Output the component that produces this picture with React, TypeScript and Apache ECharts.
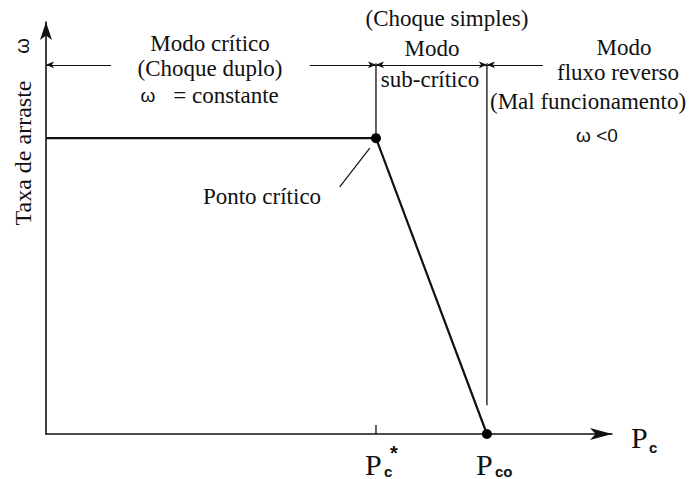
import React, { useEffect, useRef } from "react";
import * as echarts from "echarts";

// Schematic values (abstract units on a 0..100 scale)
const criticalP = 58.3; // P_c*
const zeroFlowP = 77.9; // P_co
const omegaConst = 71.8; // constant drag rate
const curveX = [0, criticalP, zeroFlowP];
const curveY = [omegaConst, omegaConst, 0];
const keyPointsX = [criticalP, zeroFlowP];
const keyPointsY = [omegaConst, 0];
const modeArrowY = 89.6;
const boundaryTop = 90;
const reverseBoundaryBottom = 7;
const tickTop = 2.2;
// mode arrows: [from, to, symbolAtFrom, symbolAtTo]
const arrowFrom = [0, 46.6, criticalP, zeroFlowP];
const arrowTo = [11.5, criticalP, zeroFlowP, 87.8];
const arrowStartSym = ["arrow", "none", "arrow", "arrow"];
const arrowEndSym = ["none", "arrow", "arrow", "none"];
const leaderX = [57.2, 51.9];
const leaderY = [69.4, 60.0];

const SERIF = "'Liberation Serif', 'Times New Roman', serif";
const SANS = "'Liberation Sans', Arial, sans-serif";
const INK = "#111";

function txt(text: string, x: number, y: number, size = 23, family = SERIF, extra: any = {}) {
  return {
    type: "text",
    x,
    y,
    rotation: extra.rotation || 0,
    silent: true,
    style: {
      text,
      x: 0,
      y: 0,
      font: `${extra.weight || "normal"} ${size}px ${family}`,
      fill: INK,
      textAlign: extra.align || "center",
      textVerticalAlign: "middle",
      align: extra.align || "center",
      verticalAlign: "middle",
    },
  };
}

export default function App() {
  const ref = useRef<HTMLDivElement>(null);
  useEffect(() => {
    document.body.style.margin = "0";
    const chart = echarts.init(ref.current!, null, { renderer: "svg" });
    const thin = { color: INK, width: 1.3 };
    const option: any = {
      animation: false,
      backgroundColor: "#fff",
      grid: { left: 46, right: 83, top: 22, bottom: 45, containLabel: false },
      xAxis: {
        type: "value",
        min: 0,
        max: 100,
        axisLine: { show: true, symbol: ["none", "arrow"], symbolSize: [9, 22], lineStyle: { color: INK, width: 1.6 } },
        axisTick: { show: false },
        axisLabel: { show: false },
        splitLine: { show: false },
      },
      yAxis: {
        type: "value",
        min: 0,
        max: 100,
        axisLine: { show: true, symbol: ["none", "arrow"], symbolSize: [9, 18], lineStyle: { color: INK, width: 1.6 } },
        axisTick: { show: false },
        axisLabel: { show: false },
        splitLine: { show: false },
      },
      series: [
        {
          type: "line",
          data: curveX.map((x, i) => [x, curveY[i]]),
          symbol: "none",
          lineStyle: { color: INK, width: 2.2 },
          silent: true,
        },
        {
          type: "scatter",
          data: keyPointsX.map((x, i) => [x, keyPointsY[i]]),
          symbolSize: 10,
          itemStyle: { color: "#000", opacity: 1 },
          silent: true,
          z: 5,
        },
        {
          type: "line",
          data: [[criticalP, omegaConst], [criticalP, boundaryTop]],
          symbol: "none",
          lineStyle: thin,
          silent: true,
          markLine: {
            silent: true,
            label: { show: false },
            lineStyle: { color: INK, width: 1, type: "solid" },
            symbolSize: [5, 8],
            data: arrowFrom.map((x, i) => [
              { coord: [x, modeArrowY], symbol: arrowStartSym[i], symbolSize: [5, 8] },
              { coord: [arrowTo[i], modeArrowY], symbol: arrowEndSym[i], symbolSize: [5, 8] },
            ]),
          },
        },
        {
          type: "line",
          data: [[zeroFlowP, reverseBoundaryBottom], [zeroFlowP, boundaryTop]],
          symbol: "none",
          lineStyle: thin,
          silent: true,
        },
        {
          type: "line",
          data: [[criticalP, 0], [criticalP, tickTop]],
          symbol: "none",
          lineStyle: thin,
          silent: true,
        },
        {
          type: "line",
          data: leaderX.map((x, i) => [x, leaderY[i]]),
          symbol: "none",
          lineStyle: { color: INK, width: 1.2 },
          silent: true,
        },
      ],
      graphic: [
        txt("Taxa de arraste", 23, 153, 24, SERIF, { rotation: Math.PI / 2 }),
        txt("ω", 22, 46, 20, SANS, { rotation: Math.PI / 2 }),
        txt("Modo crítico", 210, 43),
        txt("(Choque duplo)", 210, 68),
        txt("ω", 148, 95, 19, SANS),
        txt("= constante", 226, 95),
        txt("(Choque simples)", 447, 18),
        txt("Modo", 432, 48),
        txt("sub-crítico", 430, 79),
        txt("Modo", 624, 47),
        txt("fluxo reverso", 618, 72),
        txt("(Mal funcionamento)", 588, 101),
        txt("ω <0", 597, 135, 19, SANS),
        txt("Ponto crítico", 262, 196),
        // axis symbols
        txt("P", 631, 437, 30, SERIF, { align: "left" }),
        txt("c", 649, 447, 15, SANS, { align: "left", weight: "bold" }),
        txt("P", 365, 464, 30, SERIF, { align: "left" }),
        txt("c", 384, 471, 15, SANS, { align: "left", weight: "bold" }),
        txt("*", 394, 453, 20, SANS, { weight: "bold" }),
        txt("P", 476, 464, 30, SERIF, { align: "left" }),
        txt("co", 495, 471, 15, SANS, { align: "left", weight: "bold" }),
      ],
    };
    chart.setOption(option);
    return () => chart.dispose();
  }, []);
  return <div ref={ref} style={{ width: 695, height: 479 }} />;
}
